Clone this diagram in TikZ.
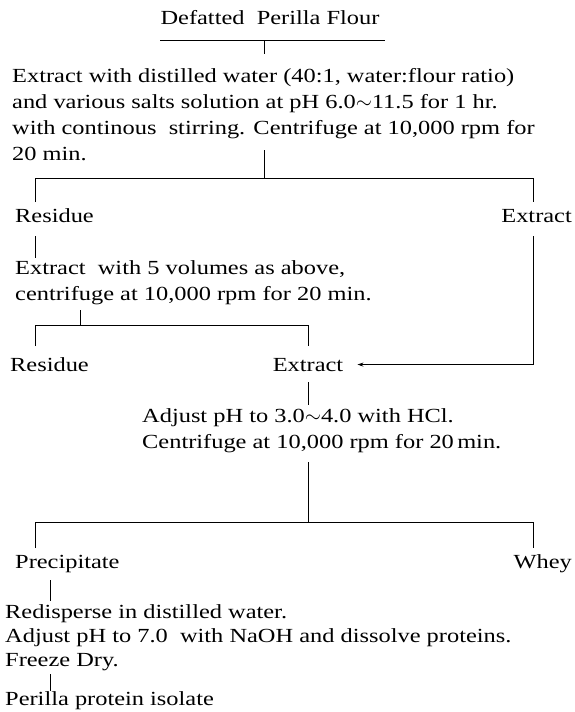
\documentclass[tikz,border=0pt]{standalone}
\usepackage{fontspec}
\setmainfont{Liberation Serif}[FakeStretch=1.22]
\usetikzlibrary{arrows.meta}

\tikzset{
  stage/.style={inner sep=0pt, anchor=base west, align=left,
    font=\fontsize{20}{26}\selectfont},
  note/.style={stage, font=\fontsize{20}{24}\selectfont},
  flow/.style={line width=0.9pt},
  feed/.style={flow, -{Stealth[length=6pt,width=4pt]}},
}

\begin{document}
\begin{tikzpicture}[x=1pt,y=-1pt]
  \useasboundingbox (0,0) rectangle (575,712);

  % stages (multi-line nodes sit on their last line)
  \node[stage, anchor=base] (flour) at (270,24) {Defatted\ \ Perilla Flour};
  \node[stage] (extract) at (12,160) {Extract with distilled water (40:1, water:flour ratio)\\
    and various salts solution at pH 6.0$\sim$11.5 for 1 hr.\\
    with continous\ \ stirring. Centrifuge at 10,000 rpm for\\
    20 min.};
  \node[stage] (res1) at (15,222) {Residue};
  \node[stage, anchor=base east] (ext1) at (572,222) {Extract};
  \node[stage] (reext) at (15,300) {Extract\ \ with 5 volumes as above,\\
    centrifuge at 10,000 rpm for 20 min.};
  \node[stage] (res2) at (10,371) {Residue};
  \node[stage, anchor=base] (ext2) at (308,371) {Extract};
  \node[stage] (acid) at (142,448) {Adjust pH to 3.0$\sim$4.0 with HCl.\\
    Centrifuge at 10,000 rpm for 20\,min.};
  \node[stage] (prec) at (15,568) {Precipitate};
  \node[stage, anchor=base east] (whey) at (572,568) {Whey};
  \node[note] (redisp) at (5,666) {Redisperse in distilled water.\\
    Adjust pH to 7.0\ \ with NaOH and dissolve proteins.\\
    Freeze Dry.};
  \node[stage] (isolate) at (5,705) {Perilla protein isolate};

  % junctions
  \coordinate (top) at (264,40);
  \coordinate (s1) at (264,178);
  \coordinate (s2) at (80,325);
  \coordinate (s3) at (308,522);

  % connectors
  \draw[flow] (160,40) -- (385,40);
  \draw[flow] (top) -- (264,54);
  \draw[flow] (264,150) -- (s1);
  \draw[flow] (35,202) -- (35,178) -- (533,178) -- (533,202);
  \draw[flow] (35,236) -- (35,258);
  \draw[flow] (80,310) -- (s2);
  \draw[flow] (35,346) -- (35,325) -- (308,325) -- (308,346);
  \draw[feed] (533,236) |- ([xshift=14pt]ext2.east);
  \draw[flow] (308,382) -- (308,405);
  \draw[flow] (308,462) -- (s3);
  \draw[flow] (35,548) -- (35,522) -- (533,522) -- (533,548);
  \draw[flow] (50,580) -- (50,601);
  \draw[flow] (50,674) -- (50,691);
\end{tikzpicture}
\end{document}
